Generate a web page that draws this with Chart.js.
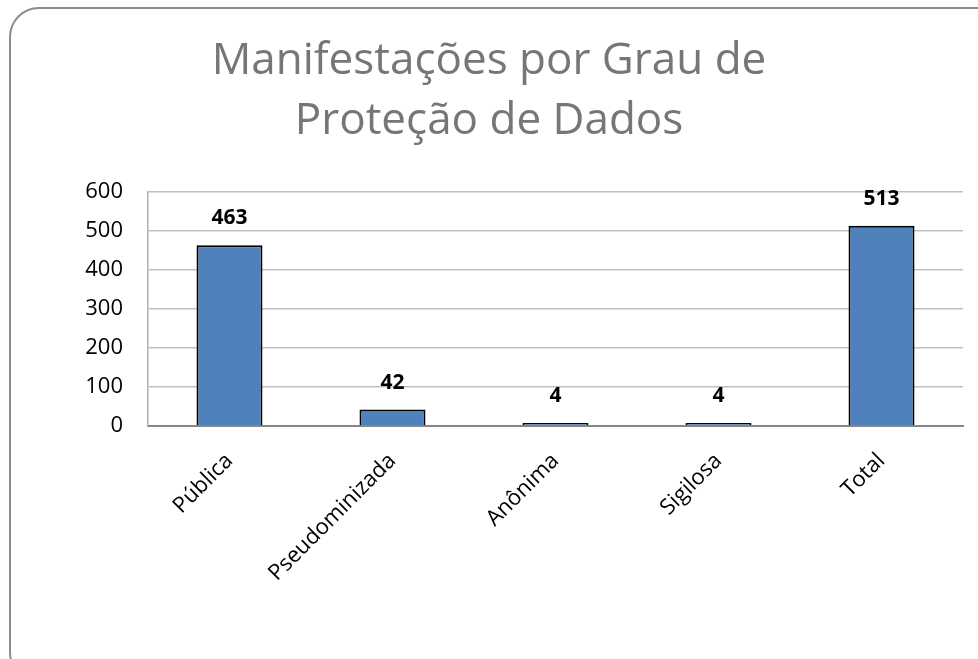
<!DOCTYPE html>
<html>
  <head>
    <title>Manifestações por Grau de Proteção de Dados</title>
    <script src="https://cdn.jsdelivr.net/npm/chart.js"></script>
    <style>
      html, body { margin: 0; padding: 0; background: #fff; overflow: hidden; }
      #wrap { position: relative; width: 978px; height: 659px; }
      #frame {
        position: absolute; left: 9px; top: 7px; width: 1000px; height: 675px;
        border: 2px solid #8c8c8c; border-radius: 30px; box-sizing: border-box;
      }
      #myChart { position: absolute; left: 0; top: 0; }
    </style>
  </head>
  <body>
    <div id="wrap">
      <div id="frame"></div>
      <canvas id="myChart" width="978" height="659"></canvas>
    </div>
    <script>
      const categories = ["Pública", "Pseudominizada", "Anônima", "Sigilosa", "Total"];
      const manifestacoes = [463, 42, 4, 4, 513];
      const yTicks = [0, 100, 200, 300, 400, 500, 600];

      const fontFamily = "'Open Sans', 'Noto Sans', sans-serif";

      // bold value above each bar
      const valueLabels = {
        id: "valueLabels",
        afterDatasetsDraw(chart) {
          const ctx = chart.ctx;
          const meta = chart.getDatasetMeta(0);
          ctx.save();
          ctx.font = "bold 21px " + fontFamily;
          ctx.fillStyle = "#000";
          ctx.textAlign = "center";
          ctx.textBaseline = "middle";
          meta.data.forEach((bar, i) => {
            ctx.fillText(String(manifestacoes[i]), bar.x, bar.y - 27);
          });
          ctx.restore();
        },
      };

      const config = {
        type: "bar",
        data: {
          labels: categories,
          datasets: [
            {
              label: "Manifestações",
              data: manifestacoes,
              backgroundColor: "#4F81BD",
              borderColor: "#000",
              borderWidth: 2,
              minBarLength: 3,
              barPercentage: 0.405,
              categoryPercentage: 1,
            },
          ],
        },
        options: {
          responsive: false,
          animation: false,
          layout: { padding: 0 },
          plugins: {
            legend: { display: false },
            tooltip: { enabled: false },
            title: {
              display: true,
              text: ["Manifestações por Grau de", "Proteção de Dados"],
              color: "#767676",
              font: { family: fontFamily, size: 44, weight: "normal", lineHeight: 1.36 },
              padding: { top: 32, bottom: 40 },
            },
          },
          scales: {
            x: {
              grid: { display: false },
              border: { display: true, color: "#868686", width: 2 },
              ticks: {
                color: "#000",
                font: { family: fontFamily, size: 22 },
                maxRotation: 45,
                minRotation: 45,
                padding: 14,
              },
              afterFit(scale) { scale.height = 233; },
            },
            y: {
              min: 0,
              max: 600,
              grid: { color: "#c0c0c0", lineWidth: 1.5, drawTicks: false },
              border: { display: true, color: "#b0b0b0", width: 1.5 },
              afterBuildTicks(scale) {
                scale.ticks = yTicks.map((v) => ({ value: v }));
              },
              ticks: {
                color: "#000",
                font: { family: fontFamily, size: 22 },
                padding: 25,
              },
              afterFit(scale) { scale.width = 148; },
            },
            // empty right-hand strip so the plot stops before the frame edge
            yRight: {
              position: "right",
              min: 0,
              max: 600,
              grid: { display: false },
              border: { display: false },
              ticks: { display: false },
              afterFit(scale) { scale.width = 15; },
            },
          },
        },
        plugins: [valueLabels],
      };

      var myChart = new Chart(document.getElementById("myChart"), config);
    </script>
  </body>
</html>
